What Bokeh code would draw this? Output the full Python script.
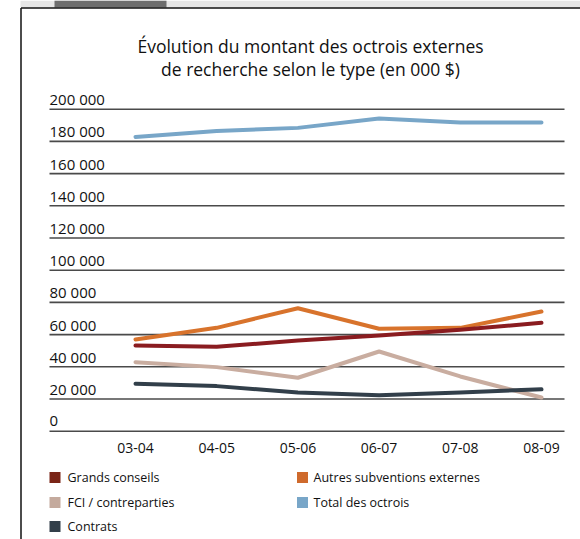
from bokeh.plotting import figure
from bokeh.models import Range1d
from bokeh.core.properties import value
from bokeh.embed import file_html
from bokeh.resources import INLINE

# ---- data ----
categories = ["03-04", "04-05", "05-06", "06-07", "07-08", "08-09"]
grands_conseils = [53300, 52400, 56300, 59400, 63000, 67300]
autres_subventions = [57000, 64200, 76400, 63600, 64200, 74300]
fci_contreparties = [42900, 39800, 33200, 49500, 34000, 20900]
total_octrois = [182800, 186400, 188400, 194200, 191800, 191800]
contrats = [29500, 28000, 24100, 22300, 24100, 26000]

y_ticks = [0, 20000, 40000, 60000, 80000, 100000, 120000, 140000, 160000, 180000, 200000]
y_tick_labels = ["0", "20 000", "40 000", "60 000", "80 000", "100 000",
                 "120 000", "140 000", "160 000", "180 000", "200 000"]

title_lines = ["Évolution du montant des octrois externes",
               "de recherche selon le type (en 000 $)"]

series = [
    ("Autres subventions externes", autres_subventions, "#d8732c"),
    ("Grands conseils", grands_conseils, "#8a1c20"),
    ("FCI / contreparties", fci_contreparties, "#c9ada0"),
    ("Total des octrois", total_octrois, "#78a6c8"),
    ("Contrats", contrats, "#323f4a"),
]
legend_order = [  # (name, column, row, colour)
    ("Grands conseils", 0, 0, "#7a2517"),
    ("FCI / contreparties", 0, 1, "#c4aa9d"),
    ("Contrats", 0, 2, "#323f4a"),
    ("Autres subventions externes", 1, 0, "#cf6a2c"),
    ("Total des octrois", 1, 1, "#78a6c8"),
]

# ---- layout (canvas pixels, origin top-left) ----
W, H = 580, 539
CAT0_X, CAT_STEP = 135.0, 81.2
ZERO_Y, TOP_Y = 430.7, 108.7
YMAX = 200000.0
K = YMAX / (ZERO_Y - TOP_Y)

def dx(px):
    return (px - CAT0_X) / CAT_STEP

def dy(py):
    return (ZERO_Y - py) * K

FONT = "Open Sans"

p = figure(width=W, height=H, output_backend="svg", toolbar_location=None,
           x_range=Range1d(dx(0), dx(W)), y_range=Range1d(dy(H), dy(0)),
           min_border=0, tools="")
p.axis.visible = False
p.grid.visible = False
p.outline_line_color = None
p.background_fill_color = "white"
p.border_fill_color = "white"

# top band and tab
p.quad(left=[dx(20)], right=[dx(W)], top=[dy(0)], bottom=[dy(7)],
       fill_color="#e6e6e6", line_color=None)
p.quad(left=[dx(54)], right=[dx(166)], top=[dy(0)], bottom=[dy(7)],
       fill_color="#6e6e6e", line_color=None)

# frame lines
p.segment(x0=[dx(20.5), dx(20.5)], y0=[dy(7.5), dy(7.5)],
          x1=[dx(20.5), dx(W)], y1=[dy(H), dy(7.5)],
          line_color="#111111", line_width=1.5)

# gridlines
gx0 = [dx(49)] * len(y_ticks)
gx1 = [dx(564)] * len(y_ticks)
p.segment(x0=gx0, y0=y_ticks, x1=gx1, y1=y_ticks, line_color="#4a4a4a", line_width=1.6)

# y tick labels (centred 10px above their gridline)
p.text(x=[dx(49)] * len(y_ticks), y=[t + 10 * K for t in y_ticks], text=y_tick_labels,
       text_font=value(FONT), text_font_size="15px", text_color="#111111",
       text_align="left", text_baseline="middle")

# x labels
xs = list(range(len(categories)))
p.text(x=xs, y=[dy(447)] * len(xs), text=categories,
       text_font=value(FONT), text_font_size="14px", text_color="#111111",
       text_align="center", text_baseline="middle")

# series lines
for name, vals, col in series:
    p.line(xs, vals, line_color=col, line_width=4, line_join="round", line_cap="round")

# title
p.text(x=[dx(310), dx(310)], y=[dy(45), dy(68)], text=title_lines,
       text_font=value(FONT), text_font_size="17.5px", text_color="#111111",
       text_align="center", text_baseline="middle")

# legend
col_sq = [54.5, 302.0]
col_tx = [67.0, 313.0]
row_y = [477.0, 502.0, 526.0]
p.scatter(x=[dx(col_sq[c]) for _, c, r, _ in legend_order],
          y=[dy(row_y[r]) for _, c, r, _ in legend_order],
          marker="square", size=11,
          fill_color=[col for *_, col in legend_order], line_color=None)
p.text(x=[dx(col_tx[c]) for _, c, r, _ in legend_order],
       y=[dy(row_y[r]) for _, c, r, _ in legend_order],
       text=[n for n, *_ in legend_order],
       text_font=value(FONT), text_font_size="12.5px", text_color="#111111",
       text_align="left", text_baseline="middle")

open("out.html", "w").write(file_html(p, INLINE))
